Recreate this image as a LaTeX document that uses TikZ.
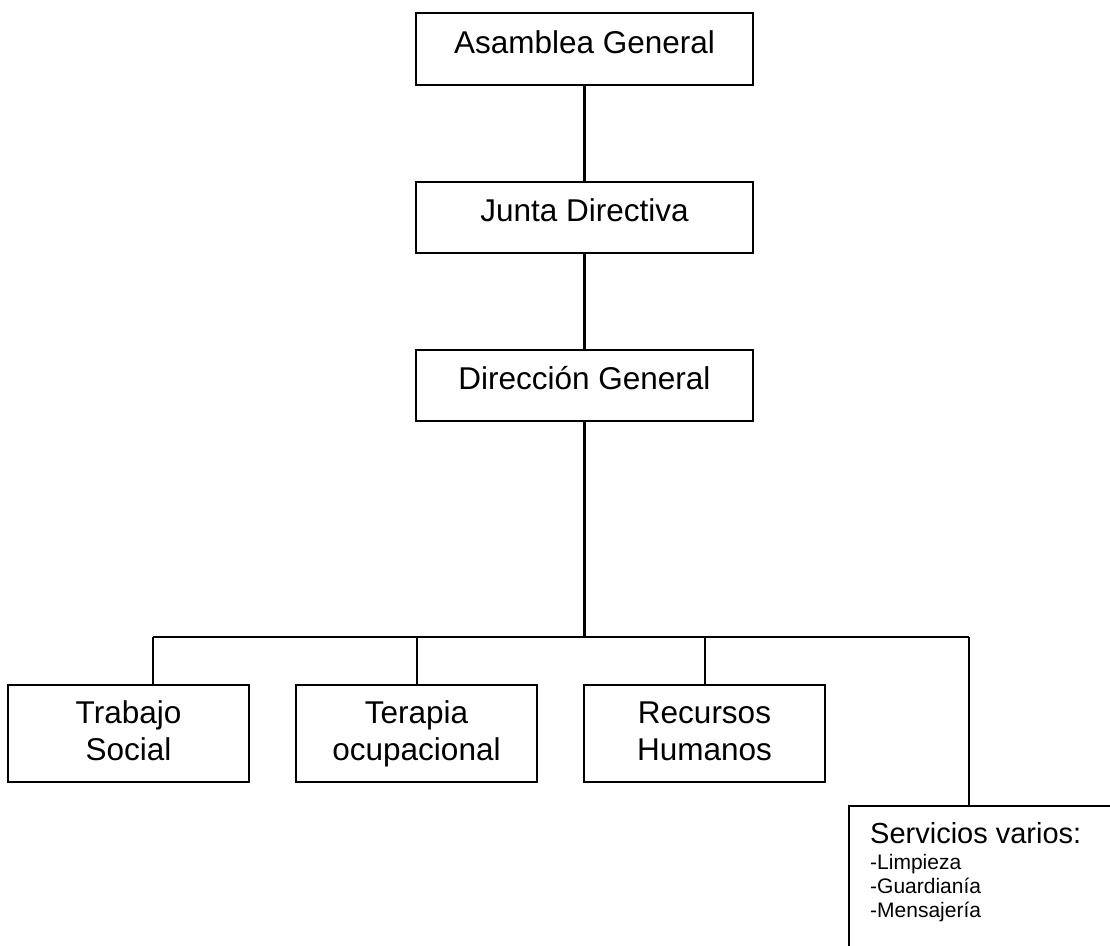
\documentclass[tikz,border=0pt]{standalone}
\usepackage{fontspec}
\setmainfont{Liberation Sans}
\newcommand{\topline}{\rule{0pt}{24pt}}
\newcommand{\botline}{\rule[-7pt]{0pt}{7pt}}
\begin{document}
\begin{tikzpicture}[x=1pt,y=-1pt,
  box/.style={draw=black, line width=2.2pt, rectangle, inner sep=0pt, align=center,
    font=\fontsize{31.5}{37}\selectfont},
  onebox/.style={box, text height=23pt, text depth=15pt},
  link/.style={draw=black, line width=2.2pt},
  item/.style={anchor=base west, inner sep=0pt, font=\fontsize{21}{24}\selectfont}]
\useasboundingbox (0,0) rectangle (1110,945);
\fill[white] (0,0) rectangle (1110,945);
\node[onebox, minimum width=337pt, minimum height=72pt] (ag) at (584.5,49) {Asamblea General};
\node[onebox, minimum width=337pt, minimum height=71pt] (jd) at (584.5,217.5) {Junta Directiva};
\node[onebox, minimum width=337pt, minimum height=71pt] (dg) at (584.5,385.5) {Dirección General};
\node[box, minimum width=241pt, minimum height=97pt] (ts) at (128.5,733.5) {\topline Trabajo\\Social\botline};
\node[box, minimum width=241pt, minimum height=97pt] (to) at (416.5,733.5) {\topline Terapia\\ocupacional\botline};
\node[box, minimum width=241pt, minimum height=97pt] (rh) at (704.5,733.5) {\topline Recursos\\Humanos\botline};
\node[draw=black, line width=2.2pt, rectangle, anchor=north west, minimum width=290pt, minimum height=180pt, inner sep=0pt] (sv) at (848,805) {};
\node[anchor=base west, inner sep=0pt, font=\fontsize{29}{33}\selectfont] (svt) at (870,843) {Servicios varios:};
\node[item] (i1) at (870,869) {-Limpieza};
\node[item] (i2) at (870,893) {-Guardianía};
\node[item] (i3) at (870,917) {-Mensajería};
\coordinate (hub) at (584.5,637);
\coordinate (b1) at (153,637);
\coordinate (b2) at (417,637);
\coordinate (b3) at (705,637);
\coordinate (b4) at (969,637);
\draw[link] (ag.south) -- (jd.north);
\draw[link] (jd.south) -- (dg.north);
\draw[link] (dg.south) -- (hub);
\draw[link] (b1) -- (b4);
\draw[link] (b1) -- (b1 |- ts.north);
\draw[link] (b2) -- (b2 |- to.north);
\draw[link] (b3) -- (b3 |- rh.north);
\draw[link] (b4) -- (b4 |- sv.north);
\end{tikzpicture}
\end{document}
